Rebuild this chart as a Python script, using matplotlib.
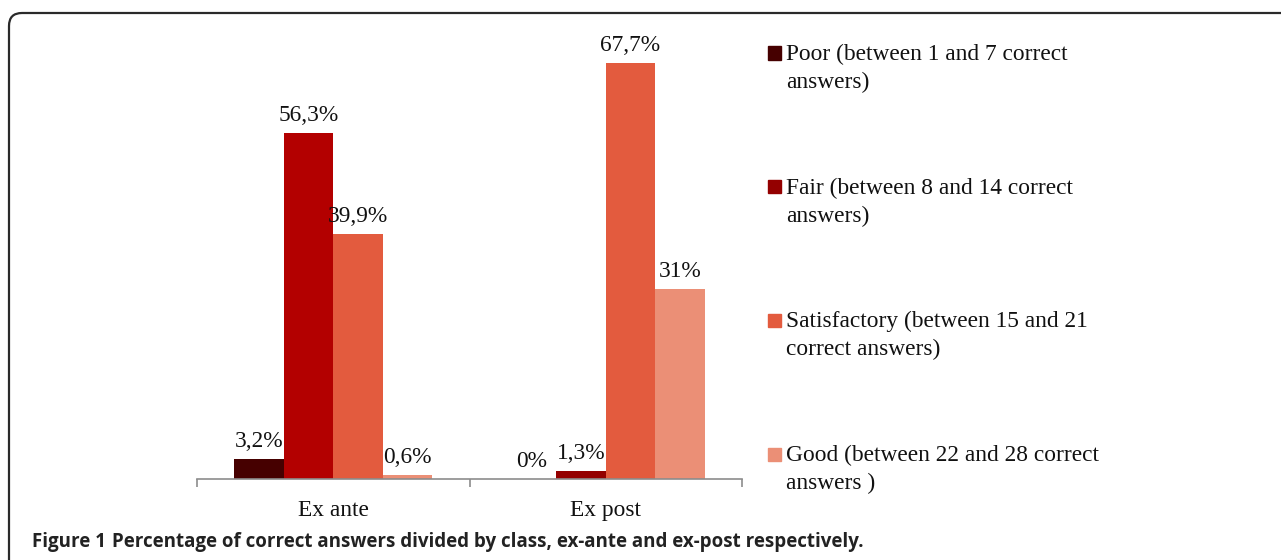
import numpy as np
import matplotlib.pyplot as plt
from matplotlib.path import Path
from matplotlib.patches import PathPatch, Rectangle
from matplotlib.transforms import Affine2D

# data
periods = ['Ex ante', 'Ex post']
classes = ['Poor (between 1 and 7 correct\nanswers)',
           'Fair (between 8 and 14 correct\nanswers)',
           'Satisfactory (between 15 and 21\ncorrect answers)',
           'Good (between 22 and 28 correct\nanswers )']
poor = [3.2, 0.0]
fair = [56.3, 1.3]
satisfactory = [39.9, 67.7]
good = [0.6, 31.0]
value_labels = [['3,2%', '0%'], ['56,3%', '1,3%'], ['39,9%', '67,7%'], ['0,6%', '31%']]
caption_bold = 'Figure 1'
caption = 'Percentage of correct answers divided by class, ex-ante and ex-post respectively.'

colors = ['#460000', '#B30000', '#E35B3E', '#EB8F76']
fair_post_color = '#940000'

W, H = 1281, 560
fig = plt.figure(figsize=(W / 100, H / 100), dpi=100)
fig.patch.set_facecolor('white')

# rounded frame (pixel coords from top-left), open to the right and bottom
r = 13
verts = [(9, H + 10), (9, 13 + r), (9, 13), (9 + r, 13), (W + 10, 13)]
codes = [Path.MOVETO, Path.LINETO, Path.CURVE3, Path.CURVE3, Path.LINETO]
to_fig = Affine2D().scale(1 / W, -1 / H).translate(0, 1) + fig.transFigure
frame = PathPatch(Path(verts, codes), transform=to_fig, fill=False,
                  edgecolor='#2a2a2a', linewidth=1.6, clip_on=False)
fig.add_artist(frame)

ax = fig.add_axes([197 / W, 1 - 479 / H, (742 - 197) / W, (479 - 49) / H])
serif = 'Liberation Serif'
fs = 16.8

series = [poor, fair, satisfactory, good]
x = np.arange(len(periods))
w = 49.5 / 272.5
for j, vals in enumerate(series):
    pos = x + (j - 1.5) * w
    cols = [colors[j], colors[j]]
    if j == 1:
        cols = [colors[1], fair_post_color]
    bars = ax.bar(pos, vals, width=w, color=cols, linewidth=0)
    for k, b in enumerate(bars):
        ax.annotate(value_labels[j][k], (b.get_x() + b.get_width() / 2, b.get_height()),
                    xytext=(0, 5), textcoords='offset points', ha='center', va='bottom',
                    fontsize=fs, family=serif, color='#111111')

ax.set_xlim(-0.5, 1.5)
ax.set_ylim(0, 70)
ax.set_yticks([])
for s in ['top', 'right', 'left']:
    ax.spines[s].set_visible(False)
ax.spines['bottom'].set_color('#8c8c8c')
ax.spines['bottom'].set_linewidth(1.2)
ax.set_xticks(x)
ax.set_xticklabels(periods, fontsize=fs, family=serif, color='#111111')
ax.tick_params(axis='x', which='major', length=0, pad=15)
ax.set_xticks([-0.5, 0.5, 1.5], minor=True)
ax.tick_params(axis='x', which='minor', length=6, color='#8c8c8c', width=1.2)

# legend drawn by hand
leg_y = [53, 187, 320, 454]
for j, lab in enumerate(classes):
    yc = 1 - leg_y[j] / H
    fig.patches.append(Rectangle((768 / W, yc - 6.5 / H), 13 / W, 13 / H,
                                 transform=fig.transFigure,
                                 color=colors[j] if j != 1 else fair_post_color))
    fig.text(786 / W, 1 - (leg_y[j] - 9) / H, lab, ha='left', va='top', fontsize=fs,
             family=serif, color='#111111', linespacing=1.42)

# caption
t = fig.text(32 / W, 1 - 542 / H, caption_bold, ha='left', va='center', fontsize=13.5,
             family='Open Sans', weight='bold', color='#222222')
fig.canvas.draw()
bb = t.get_window_extent()
fig.text((bb.x1 + 6) / W, 1 - 542 / H, caption, ha='left', va='center', fontsize=13.5,
         family='Open Sans', weight='bold', color='#222222')

fig.savefig('out.png', dpi=100)
